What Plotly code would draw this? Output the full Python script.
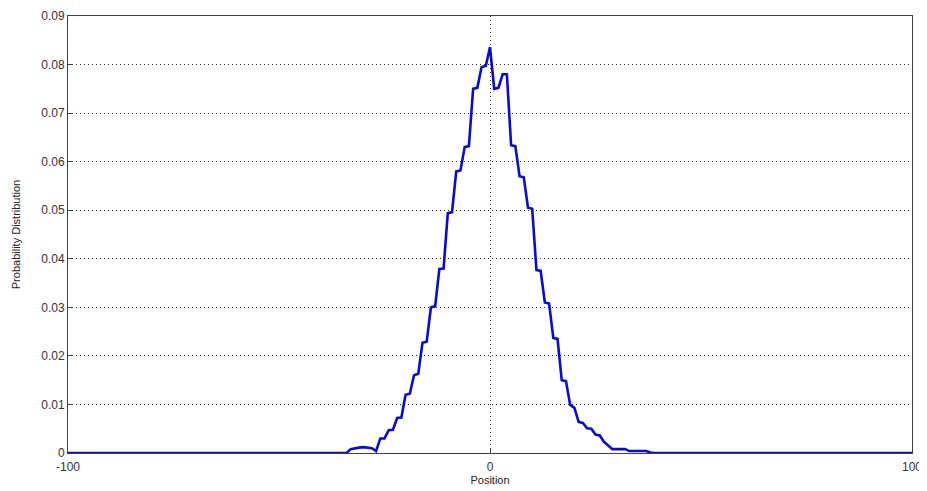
import plotly.graph_objects as go

# Support of the distribution (integer positions)
positions = [-100] + list(range(-35, 40)) + [100]
probability = [0.0,
    0.0, 0.0, 0.0008, 0.001, 0.0011, 0.0012, 0.0011, 0.001, 0.0004, 0.003,   # -35..-26
    0.003, 0.0047, 0.0048, 0.0072, 0.0073, 0.012, 0.0122, 0.016, 0.0163, 0.0227,  # -25..-16
    0.0229, 0.030, 0.0302, 0.0379, 0.038, 0.0494, 0.0496, 0.058, 0.0582, 0.063,  # -15..-6
    0.0632, 0.075, 0.0752, 0.0795, 0.0797,                                  # -5..-1
    0.0836,                                                                 # 0
    0.075, 0.0752, 0.078, 0.078, 0.0634, 0.0632, 0.057, 0.0568, 0.0505, 0.0503,  # 1..10
    0.0377, 0.0375, 0.031, 0.0308, 0.0237, 0.0235, 0.015, 0.0148, 0.0099, 0.0093,  # 11..20
    0.0064, 0.0062, 0.0051, 0.005, 0.0038, 0.0036, 0.0023, 0.0015, 0.0008, 0.0008,  # 21..30
    0.0008, 0.0008, 0.0004, 0.0004, 0.0004, 0.0004, 0.0004, 0.0001, 0.0,         # 31..39
    0.0]

x_ticks = [-100, 0, 100]
y_ticks = [0, 0.01, 0.02, 0.03, 0.04, 0.05, 0.06, 0.07, 0.08, 0.09]
y_tick_labels = ["0", "0.01", "0.02", "0.03", "0.04", "0.05", "0.06", "0.07", "0.08", "0.09"]

fig = go.Figure()
fig.add_trace(go.Scatter(
    x=positions, y=probability, mode="lines",
    line=dict(color="rgb(10,10,215)", width=2.6),
    showlegend=False, cliponaxis=False,
))

axis_common = dict(
    showline=True, linecolor="#404040", linewidth=1, mirror=True,
    ticks="inside", ticklen=5, tickcolor="#404040",
    showgrid=True, gridcolor="#303030", griddash="1px,3px", gridwidth=1,
    zeroline=False, automargin=False,
    tickfont=dict(family="Liberation Sans, Arial", size=12, color="#333333"),
)

fig.update_xaxes(
    range=[-100, 100], tickvals=x_ticks, ticktext=[str(v) for v in x_ticks],
    ticklabelstandoff=3,
    title=dict(text="Position", font=dict(family="Liberation Sans, Arial", size=11, color="#222222"), standoff=2),
    **axis_common,
)
fig.update_yaxes(
    range=[0, 0.09], tickvals=y_ticks, ticktext=y_tick_labels,
    title=dict(text="Probability Distribution", font=dict(family="Liberation Sans, Arial", size=11, color="#222222"), standoff=18),
    **axis_common,
)

# page body has an 8px margin, so the figure is shrunk to fit the 927x491 window
fig.update_layout(
    width=919, height=483,
    margin=dict(l=60, r=15, t=8, b=38),
    paper_bgcolor="white", plot_bgcolor="white",
)

fig.write_html("out.html")
